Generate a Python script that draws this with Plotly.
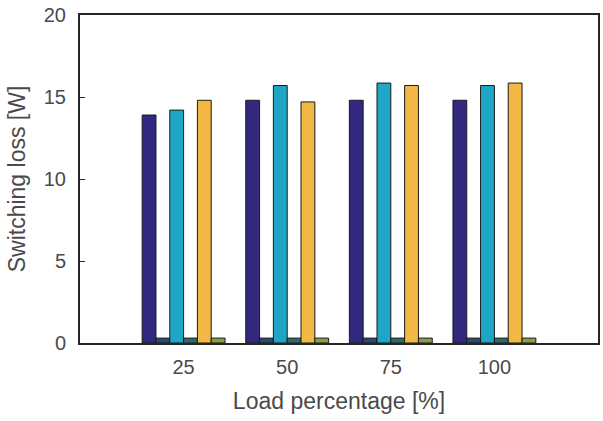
import plotly.graph_objects as go

load_labels = ["25", "50", "75", "100"]
positions = [1, 2, 3, 4]

series_names = ["S1", "S1b", "S2", "S2b", "S3", "S3b"]
series_values = [
    [13.9, 14.8, 14.8, 14.8],
    [0.3, 0.3, 0.3, 0.3],
    [14.2, 15.7, 15.85, 15.7],
    [0.3, 0.3, 0.3, 0.3],
    [14.8, 14.7, 15.7, 15.85],
    [0.3, 0.3, 0.3, 0.3],
]
series_colors = ["#33287f", "#2b4a6e", "#1fa6c6", "#2f6a6a", "#f2b843", "#8a9e48"]

fig = go.Figure()
for name, vals, col in zip(series_names, series_values, series_colors):
    fig.add_trace(go.Bar(
        x=positions, y=vals, name=name,
        marker=dict(color=col, line=dict(color="#1a1a1a", width=1)),
        showlegend=False,
    ))

font_family = "Liberation Sans, Arial, sans-serif"
fig.update_layout(
    width=603, height=421,
    margin=dict(l=80, r=3, t=15, b=78),
    plot_bgcolor="white", paper_bgcolor="white",
    barmode="group", bargap=0.2, bargroupgap=0.0,
    font=dict(family=font_family, color="#4a4a4a", size=20),
)
fig.update_xaxes(
    range=[0, 5], tickvals=positions, ticktext=load_labels,
    showline=True, linecolor="#262626", linewidth=2, mirror=True,
    ticks="", showgrid=False, zeroline=False,
    tickfont=dict(size=20), ticklabelstandoff=5,
    title=dict(text="Load percentage [%]", font=dict(size=23), standoff=16),
)
fig.update_yaxes(
    range=[0, 20], tickvals=[0, 5, 10, 15, 20],
    showline=True, linecolor="#262626", linewidth=2, mirror=True,
    ticks="inside", ticklen=5, tickcolor="#262626", tickwidth=1,
    showgrid=False, zeroline=False,
    tickfont=dict(size=20), ticklabelstandoff=8,
    title=dict(text="Switching loss [W]", font=dict(size=23), standoff=12),
)

fig.write_html("out.html")
